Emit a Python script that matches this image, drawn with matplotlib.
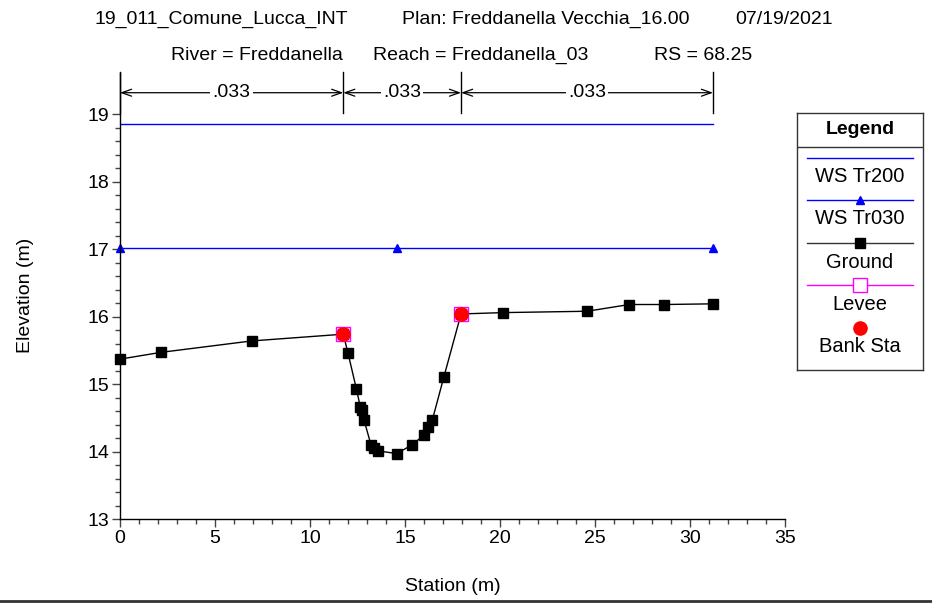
import numpy as np
import matplotlib
matplotlib.use("Agg")
import matplotlib.pyplot as plt
from matplotlib.lines import Line2D

# Ground profile
station = [0.0, 2.14, 6.93, 11.75, 12.0, 12.44, 12.65, 12.72, 12.84, 13.21, 13.38,
           13.58, 14.56, 15.38, 16.02, 16.23, 16.44, 17.04, 17.95, 20.17, 24.58,
           26.81, 28.62, 31.21]
ground = [15.37, 15.47, 15.64, 15.74, 15.46, 14.93, 14.66, 14.61, 14.47, 14.10, 14.05,
          14.01, 13.97, 14.10, 14.25, 14.36, 14.47, 15.10, 16.04, 16.06, 16.08,
          16.18, 16.18, 16.19]

# Water surfaces
ws_x = [0.0, 14.56, 31.21]
ws_tr200 = 18.85
ws_tr030 = 17.02

# Banks / levees
bank_x = [11.75, 17.95]
bank_y = [15.74, 16.04]

# Manning's n
n_bounds = [0.0, 11.75, 17.95, 31.21]
n_vals = [".033", ".033", ".033"]

plt.rcParams["font.family"] = ["Liberation Sans", "DejaVu Sans"]

W, H = 932, 604
fig = plt.figure(figsize=(W / 100, H / 100), dpi=100)

ymax = 13 + (519 - 72.7) / 67.45
ax = fig.add_axes([120 / W, (H - 519) / H, 665 / W, (519 - 72.7) / H])

ax.plot(ws_x, [ws_tr200] * len(ws_x), color="#0000FF", lw=1)
ax.plot(ws_x, [ws_tr030] * len(ws_x), color="#0000FF", lw=1,
        marker="^", ms=6, mfc="#0000FF", mec="#0000FF", clip_on=False)
ax.plot(station, ground, color="black", lw=1, marker="s", ms=6.5, mfc="black", mec="black",
        clip_on=False)
ax.plot(bank_x, bank_y, ls="none", marker="s", ms=10.5, mfc="none", mec="#FF00FF", mew=1)
ax.plot(bank_x, bank_y, ls="none", marker="o", ms=9.5, mfc="#FF0000", mec="#FF0000")

ax.set_xlim(0, 35)
ax.set_ylim(13, ymax)
ax.set_xticks(np.arange(0, 36, 5))
ax.set_xticks(np.arange(0, 36, 1), minor=True)
ax.set_yticks(np.arange(13, 20, 1))
ax.set_yticks([v for v in np.arange(13, 19.01, 0.2)], minor=True)

for s in ["top", "right"]:
    ax.spines[s].set_visible(False)
for s in ["left", "bottom"]:
    ax.spines[s].set_linewidth(1)

ax.tick_params(which="major", length=6, width=1, color="#444444", labelsize=14, pad=2)
ax.tick_params(which="minor", length=3.5, width=1, color="#444444")

ax.set_xlabel("Station (m)", fontsize=14, labelpad=22)
ax.set_ylabel("Elevation (m)", fontsize=14, labelpad=38)

# Manning's n bars
y_top = 19.62
y_bot = 19.02
y_arr = 19.32
for xb in n_bounds:
    ax.plot([xb, xb], [y_bot, y_top], color="black", lw=1, clip_on=False)
for i, txt in enumerate(n_vals):
    x0, x1 = n_bounds[i], n_bounds[i + 1]
    ax.annotate("", xy=(x0, y_arr), xytext=(x1, y_arr),
                arrowprops=dict(arrowstyle="<->,head_length=0.7,head_width=0.25",
                                color="black", lw=0.9, shrinkA=0, shrinkB=0),
                annotation_clip=False)
    ax.text((x0 + x1) / 2, y_arr, txt, fontsize=14, ha="center", va="center",
            bbox=dict(facecolor="white", edgecolor="none", pad=1.5), clip_on=False)

# Titles
def ftxt(x, y, s, ha="left", size=14):
    fig.text(x / W, 1 - y / H, s, fontsize=size, ha=ha, va="center")

ftxt(95, 19, "19_011_Comune_Lucca_INT")
ftxt(402, 19, "Plan: Freddanella Vecchia_16.00")
ftxt(833, 19, "07/19/2021", ha="right")
ftxt(171, 55, "River = Freddanella")
ftxt(373, 55, "Reach = Freddanella_03")
ftxt(752, 55, "RS = 68.25", ha="right")

# Legend box
lg = fig.add_axes([797 / W, (H - 370) / H, 126 / W, 257 / H])
lg.set_xlim(797, 923)
lg.set_ylim(370, 113)
lg.set_xticks([])
lg.set_yticks([])
for s in lg.spines.values():
    s.set_linewidth(1)
    s.set_color("#333333")
lg.text(860, 129, "Legend", fontsize=14, fontweight="bold", ha="center", va="center")
lg.plot([797, 923], [147, 147], color="#333333", lw=1)

lx = [807, 913]
lg.plot(lx, [157.5, 157.5], color="#0000FF", lw=1)
lg.text(860, 177, "WS Tr200", fontsize=14.5, ha="center", va="center")
lg.plot(lx, [200, 200], color="#0000FF", lw=1)
lg.plot([860], [200], marker="^", ms=6, color="#0000FF")
lg.text(860, 219, "WS Tr030", fontsize=14.5, ha="center", va="center")
lg.plot(lx, [243, 243], color="#333333", lw=1)
lg.plot([860], [243], marker="s", ms=6.5, color="black")
lg.text(860, 262, "Ground", fontsize=14.5, ha="center", va="center")
lg.plot(lx, [285, 285], color="#FF00FF", lw=1)
lg.plot([860], [285], marker="s", ms=10.5, mfc="white", mec="#FF00FF", mew=1)
lg.text(860, 304, "Levee", fontsize=14.5, ha="center", va="center")
lg.plot([860], [328], marker="o", ms=9.5, color="#FF0000")
lg.text(860, 347, "Bank Sta", fontsize=14.5, ha="center", va="center")

# bottom border
fig.add_artist(Line2D([0, 1], [1 - 601 / H, 1 - 601 / H], color="#333333", lw=2,
                      transform=fig.transFigure))

fig.savefig("out.png", dpi=100)
